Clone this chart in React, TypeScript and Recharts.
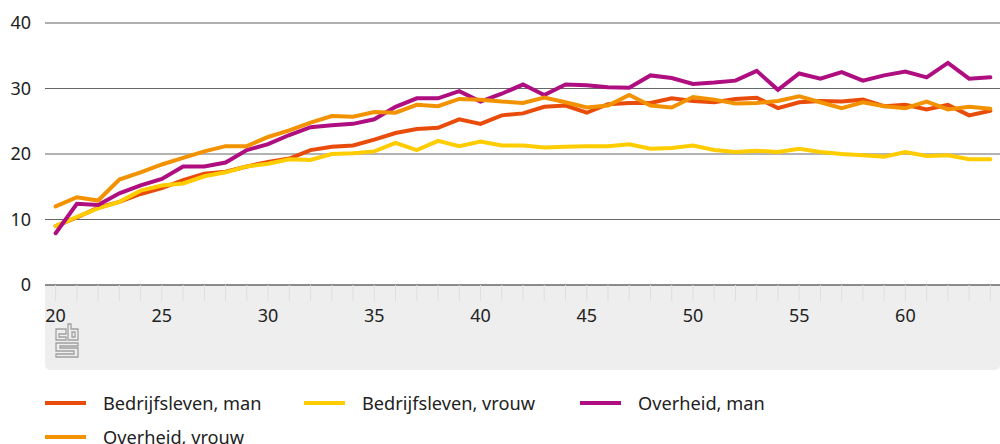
import React from 'react';
import { LineChart, Line, XAxis, YAxis, CartesianGrid, Legend, ReferenceLine } from 'recharts';

const ages = [20, 21, 22, 23, 24, 25, 26, 27, 28, 29, 30, 31, 32, 33, 34, 35, 36, 37, 38, 39, 40, 41, 42, 43, 44, 45, 46, 47, 48, 49, 50, 51, 52, 53, 54, 55, 56, 57, 58, 59, 60, 61, 62, 63, 64];
const bedrijfMan = [9.0, 10.3, 11.8, 12.7, 13.9, 14.8, 16.0, 17.0, 17.3, 18.1, 18.8, 19.3, 20.6, 21.1, 21.3, 22.2, 23.2, 23.8, 24.0, 25.3, 24.6, 25.9, 26.2, 27.2, 27.4, 26.3, 27.6, 27.8, 27.8, 28.5, 28.1, 27.9, 28.4, 28.6, 27.0, 27.9, 28.1, 28.0, 28.3, 27.3, 27.5, 26.8, 27.5, 25.9, 26.6];
const bedrijfVrouw = [9.0, 10.4, 11.7, 12.7, 14.4, 15.2, 15.5, 16.6, 17.2, 18.1, 18.5, 19.2, 19.1, 20.0, 20.1, 20.4, 21.7, 20.6, 22.0, 21.2, 21.9, 21.3, 21.3, 21.0, 21.1, 21.2, 21.2, 21.5, 20.8, 20.9, 21.3, 20.6, 20.3, 20.5, 20.3, 20.8, 20.3, 20.0, 19.8, 19.6, 20.3, 19.7, 19.8, 19.2, 19.2];
const overheidMan = [7.9, 12.4, 12.2, 14.0, 15.2, 16.2, 18.1, 18.1, 18.7, 20.6, 21.5, 22.9, 24.1, 24.4, 24.6, 25.3, 27.2, 28.5, 28.5, 29.6, 28.0, 29.2, 30.6, 29.0, 30.6, 30.5, 30.2, 30.1, 32.0, 31.6, 30.7, 30.9, 31.2, 32.7, 29.8, 32.3, 31.5, 32.5, 31.2, 32.0, 32.6, 31.7, 33.9, 31.5, 31.7];
const overheidVrouw = [12.0, 13.4, 12.9, 16.1, 17.2, 18.4, 19.4, 20.4, 21.2, 21.2, 22.6, 23.6, 24.8, 25.8, 25.7, 26.4, 26.3, 27.5, 27.3, 28.4, 28.3, 28.0, 27.8, 28.6, 27.9, 27.1, 27.4, 29.0, 27.4, 27.1, 28.7, 28.3, 27.7, 27.8, 28.1, 28.8, 27.9, 27.0, 27.9, 27.3, 27.0, 28.0, 26.8, 27.2, 26.9];
const yTicks = [0, 10, 20, 30, 40];

const FONT = '"Noto Sans", sans-serif';

const chartData = ages.map((age, i) => ({
  age,
  bedrijfMan: bedrijfMan[i],
  bedrijfVrouw: bedrijfVrouw[i],
  overheidMan: overheidMan[i],
  overheidVrouw: overheidVrouw[i],
}));

const legendWidths = [259, 276, 420, 300];

const renderLegend = ({ payload }: any) => (
  <div style={{ display: 'flex', flexWrap: 'wrap', width: 955, fontFamily: FONT, fontSize: 18.2, color: '#222' }}>
    {(payload || []).map((item: any, i: number) => (
      <div key={item.value} style={{ display: 'flex', alignItems: 'center', width: legendWidths[i], height: 34 }}>
        <span style={{ display: 'inline-block', width: 41, height: 4, background: item.color, marginRight: 17 }} />
        <span>{item.value}</span>
      </div>
    ))}
  </div>
);

// cbs logo in the corner of the grey band
const CbsLogo = () => (
  <svg width={24} height={36} viewBox="0 0 24 36" style={{ position: 'absolute', left: 55, top: 323 }} fill="none" stroke="#a0a0a0" strokeWidth={1.3}>
    <path d="M1 6h10v5H4v3h7v3H1z" />
    <path d="M13 1h3v5h7v11H13z" />
    <path d="M17 9h3v5h-3z" />
    <path d="M1 20h22v3H5v2h18v9H1v-3h18v-3H1z" />
  </svg>
);

const lineProps = { type: 'linear' as const, strokeWidth: 4, strokeLinecap: 'round' as const, dot: false, isAnimationActive: false };

const App: React.FC = () => {
  return (
    <div style={{ position: 'absolute', left: 0, top: 0, width: 1000, height: 444, overflow: 'hidden', background: '#fff' }}>
      <div style={{ position: 'absolute', left: 45, top: 285, width: 955, height: 85, background: '#eeeeee', borderRadius: '0 0 5px 5px' }} />
      <CbsLogo />
      <LineChart
        width={1000}
        height={444}
        data={chartData}
        margin={{ top: 23, right: -1, bottom: 129, left: 0 }}
        style={{ position: 'absolute', left: 0, top: 0 }}
      >
        <CartesianGrid vertical={false} stroke="#666666" strokeWidth={1} />
        <XAxis
          dataKey="age"
          scale="band"
          interval={0}
          height={30}
          tickSize={16}
          axisLine={{ stroke: '#666666', strokeWidth: 1 }}
          tickLine={{ stroke: '#dedede', strokeWidth: 1 }}
          tick={{ fill: '#222222', fontSize: 18, fontFamily: FONT, dy: 6 }}
          tickFormatter={(v: number) => (v % 5 === 0 ? String(v) : '')}
        />
        <YAxis
          domain={[0, 40]}
          ticks={yTicks}
          width={45}
          axisLine={false}
          tickLine={false}
          tickMargin={8}
          tick={{ fill: '#222222', fontSize: 18, fontFamily: FONT, dy: 0 }}
        />
        <ReferenceLine y={40} stroke="#aaaaaa" />
        <Line {...lineProps} dataKey="bedrijfMan" name="Bedrijfsleven, man" stroke="#e94c0a" />
        <Line {...lineProps} dataKey="bedrijfVrouw" name="Bedrijfsleven, vrouw" stroke="#ffcc00" />
        <Line {...lineProps} dataKey="overheidMan" name="Overheid, man" stroke="#af0e80" />
        <Line {...lineProps} dataKey="overheidVrouw" name="Overheid, vrouw" stroke="#f39200" />
        <Legend content={renderLegend} verticalAlign="middle" wrapperStyle={{ left: 45, top: 386, width: 955 }} />
      </LineChart>
    </div>
  );
};

export default App;
